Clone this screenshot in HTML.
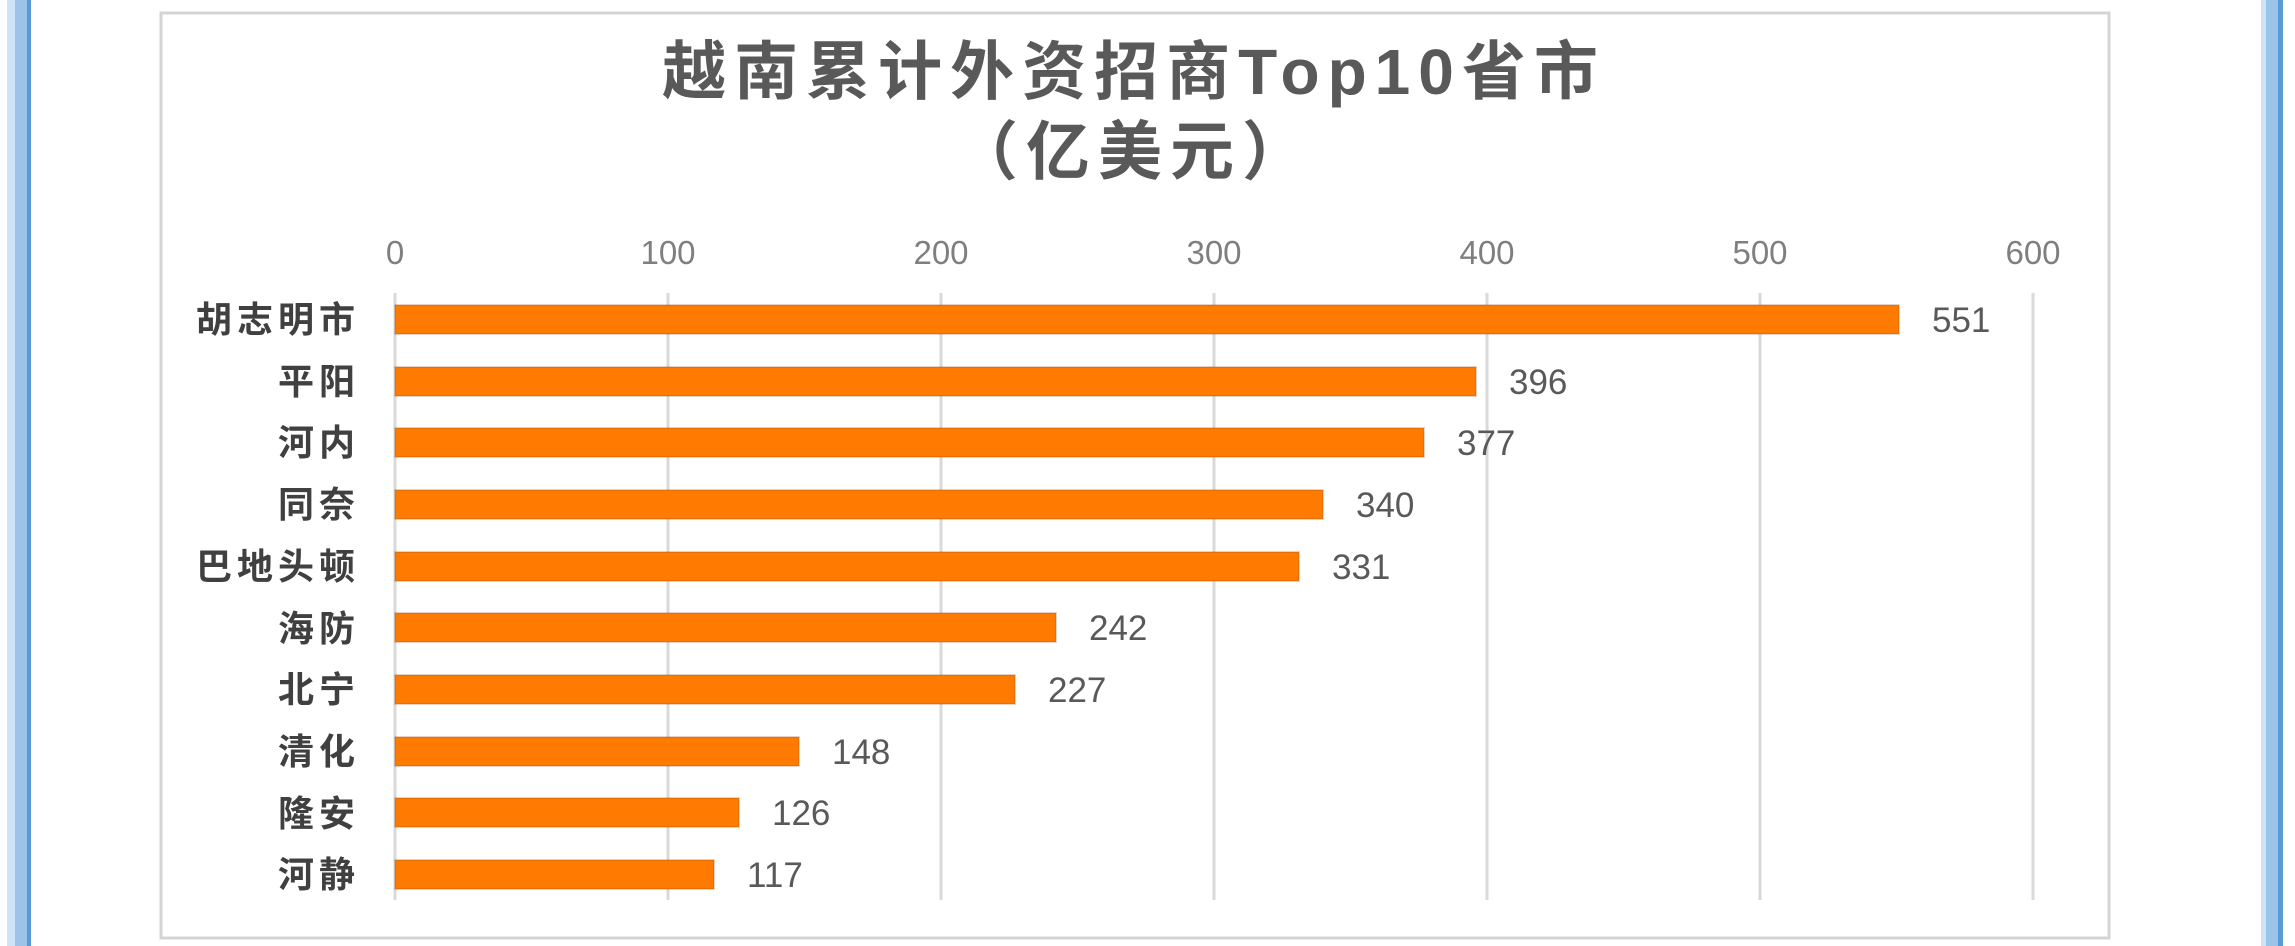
<!DOCTYPE html>
<html><head><meta charset="utf-8"><style>
body{margin:0;background:#fff;}
svg{display:block}
</style></head><body>
<svg width="2295" height="946" xmlns="http://www.w3.org/2000/svg" font-family="Liberation Sans, Noto Sans CJK SC, sans-serif">
<rect width="2295" height="946" fill="#fff"/>
<rect x="7" y="0" width="8" height="946" fill="#cfe3f7"/>
<rect x="15" y="0" width="12" height="946" fill="#9cc3e8"/>
<rect x="27" y="0" width="4" height="946" fill="#5b9bd5"/>
<rect x="2261" y="0" width="5" height="946" fill="#cfe3f7"/>
<rect x="2266" y="0" width="12" height="946" fill="#9cc3e8"/>
<rect x="2278" y="0" width="5" height="946" fill="#5b9bd5"/>
<rect x="161" y="13" width="1948" height="925" fill="#fff" stroke="#d4d4d4" stroke-width="3"/>
<text x="1134" y="94" font-size="64" font-weight="bold" fill="#595959" text-anchor="middle" letter-spacing="8" font-family="Liberation Sans, Noto Sans CJK SC, sans-serif">越南累计外资招商Top10省市</text>
<text x="1134" y="174" font-size="64" font-weight="bold" fill="#595959" text-anchor="middle" letter-spacing="8" font-family="Noto Sans CJK SC, sans-serif">（亿美元）</text>
<g stroke="#d9d9d9" stroke-width="3">
<line x1="395" y1="293" x2="395" y2="900"/>
<line x1="668" y1="293" x2="668" y2="900"/>
<line x1="941" y1="293" x2="941" y2="900"/>
<line x1="1214" y1="293" x2="1214" y2="900"/>
<line x1="1487" y1="293" x2="1487" y2="900"/>
<line x1="1760" y1="293" x2="1760" y2="900"/>
<line x1="2033" y1="293" x2="2033" y2="900"/>
</g>
<g font-size="33" fill="#7f7f7f" text-anchor="middle">
<text x="395" y="264">0</text><text x="668" y="264">100</text><text x="941" y="264">200</text><text x="1214" y="264">300</text><text x="1487" y="264">400</text><text x="1760" y="264">500</text><text x="2033" y="264">600</text>
</g>
<g font-size="36" fill="#404040" font-weight="bold" text-anchor="end" letter-spacing="5" font-family="Noto Sans CJK SC, sans-serif">
<text x="360" y="332">胡志明市</text><text x="360" y="394">平阳</text><text x="360" y="455">河内</text><text x="360" y="517">同奈</text><text x="360" y="579">巴地头顿</text><text x="360" y="641">海防</text><text x="360" y="702">北宁</text><text x="360" y="764">清化</text><text x="360" y="826">隆安</text><text x="360" y="887">河静</text>
</g>
<g fill="#ff7a00" stroke="#a05010" stroke-opacity="0.25" stroke-width="2">
<rect x="395" y="305" width="1504" height="29"/>
<rect x="395" y="367" width="1081" height="29"/>
<rect x="395" y="428" width="1029" height="29"/>
<rect x="395" y="490" width="928" height="29"/>
<rect x="395" y="552" width="904" height="29"/>
<rect x="395" y="613" width="661" height="29"/>
<rect x="395" y="675" width="620" height="29"/>
<rect x="395" y="737" width="404" height="29"/>
<rect x="395" y="798" width="344" height="29"/>
<rect x="395" y="860" width="319" height="29"/>
</g>
<g font-size="35" fill="#595959">
<text x="1932" y="332">551</text><text x="1509" y="394">396</text><text x="1457" y="455">377</text><text x="1356" y="517">340</text><text x="1332" y="579">331</text><text x="1089" y="640">242</text><text x="1048" y="702">227</text><text x="832" y="764">148</text><text x="772" y="825">126</text><text x="747" y="887">117</text>
</g>
</svg>
</body></html>
